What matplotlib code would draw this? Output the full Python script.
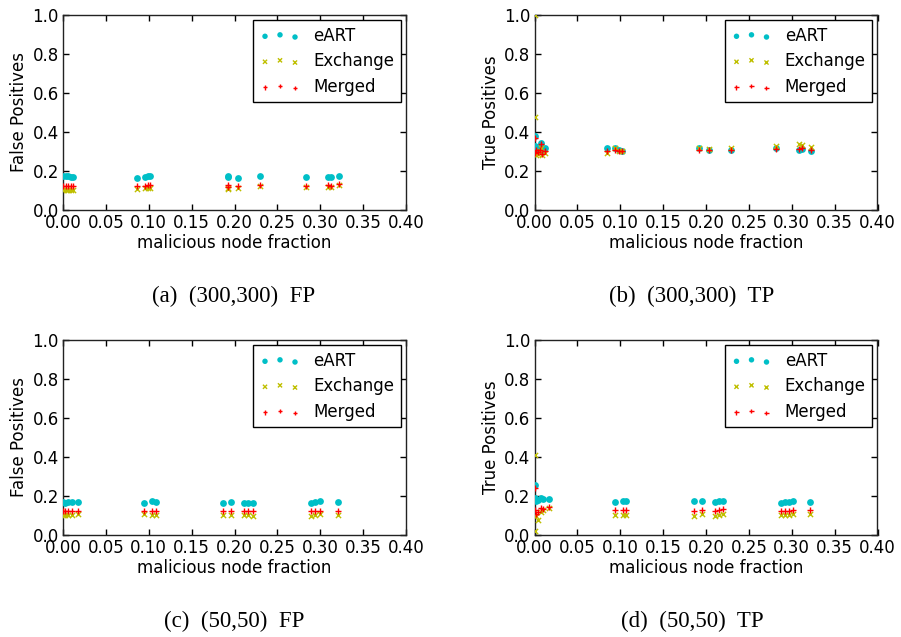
import matplotlib
matplotlib.use("Agg")
import matplotlib.pyplot as plt
import numpy as np

# ---------- data ----------
# (a) (300,300) FP
a_x = [0.000, 0.003, 0.006, 0.009, 0.012, 0.086, 0.096, 0.099, 0.102,
       0.192, 0.193, 0.204, 0.230, 0.283, 0.309, 0.313, 0.322]
a_eart = [0.175, 0.172, 0.172, 0.170, 0.168, 0.166, 0.171, 0.174, 0.172,
          0.168, 0.176, 0.166, 0.176, 0.170, 0.168, 0.168, 0.176]
a_exch = [0.105, 0.102, 0.104, 0.103, 0.105, 0.108, 0.112, 0.115, 0.112,
          0.106, 0.112, 0.112, 0.122, 0.118, 0.118, 0.116, 0.130]
a_merg = [0.125, 0.124, 0.125, 0.125, 0.124, 0.123, 0.125, 0.127, 0.126,
          0.120, 0.128, 0.124, 0.130, 0.125, 0.126, 0.125, 0.135]

# (b) (300,300) TP
b_x = [0.000, 0.000, 0.002, 0.004, 0.006, 0.007, 0.009, 0.012, 0.085, 0.094,
       0.099, 0.102, 0.192, 0.203, 0.229, 0.282, 0.308, 0.312, 0.322]
b_eart = [0.380, 0.330, 0.300, 0.304, 0.320, 0.345, 0.300, 0.316, 0.316, 0.316,
          0.308, 0.305, 0.316, 0.306, 0.310, 0.318, 0.310, 0.312, 0.303]
b_exch = [1.000, 0.475, 0.280, 0.285, 0.300, 0.320, 0.280, 0.290, 0.294, 0.318,
          0.305, 0.302, 0.320, 0.315, 0.318, 0.330, 0.338, 0.333, 0.325]
b_merg = [0.370, 0.290, 0.310, 0.295, 0.310, 0.340, 0.285, 0.300, 0.304, 0.310,
          0.304, 0.302, 0.308, 0.306, 0.310, 0.315, 0.315, 0.316, 0.308]

# (c) (50,50) FP
c_x = [0.000, 0.002, 0.006, 0.010, 0.018, 0.095, 0.104, 0.109,
       0.187, 0.196, 0.211, 0.216, 0.221, 0.289, 0.294, 0.300, 0.321]
c_eart = [0.168, 0.166, 0.170, 0.170, 0.170, 0.166, 0.172, 0.170,
          0.166, 0.168, 0.166, 0.166, 0.165, 0.165, 0.170, 0.172, 0.170]
c_exch = [0.105, 0.103, 0.104, 0.102, 0.108, 0.106, 0.104, 0.103,
          0.102, 0.105, 0.104, 0.101, 0.100, 0.100, 0.101, 0.106, 0.104]
c_merg = [0.125, 0.123, 0.125, 0.124, 0.125, 0.124, 0.125, 0.123,
          0.124, 0.125, 0.123, 0.124, 0.122, 0.121, 0.123, 0.125, 0.124]

# (d) (50,50) TP
d_x = [0.000, 0.000, 0.002, 0.004, 0.007, 0.010, 0.017, 0.094, 0.103, 0.107,
       0.186, 0.195, 0.211, 0.215, 0.220, 0.288, 0.292, 0.297, 0.301, 0.321]
d_eart = [0.255, 0.190, 0.175, 0.180, 0.190, 0.185, 0.185, 0.168, 0.172, 0.173,
          0.172, 0.175, 0.171, 0.172, 0.173, 0.166, 0.170, 0.170, 0.172, 0.170]
d_exch = [0.410, 0.020, 0.100, 0.075, 0.120, 0.130, 0.140, 0.105, 0.104, 0.104,
          0.100, 0.108, 0.098, 0.104, 0.110, 0.104, 0.104, 0.104, 0.106, 0.108]
d_merg = [0.240, 0.130, 0.110, 0.120, 0.140, 0.135, 0.145, 0.127, 0.128, 0.130,
          0.125, 0.130, 0.124, 0.126, 0.131, 0.123, 0.125, 0.125, 0.127, 0.126]

panels = [
    ("(a)  (300,300)  FP", "False Positives", a_x, a_eart, a_exch, a_merg),
    ("(b)  (300,300)  TP", "True Positives", b_x, b_eart, b_exch, b_merg),
    ("(c)  (50,50)  FP", "False Positives", c_x, c_eart, c_exch, c_merg),
    ("(d)  (50,50)  TP", "True Positives", d_x, d_eart, d_exch, d_merg),
]
series_names = ["eART", "Exchange", "Merged"]
x_ticks = [0.00, 0.05, 0.10, 0.15, 0.20, 0.25, 0.30, 0.35, 0.40]
y_ticks = [0.0, 0.2, 0.4, 0.6, 0.8, 1.0]

# ---------- figure ----------
plt.rcParams['font.family'] = ['DejaVu Sans']
W, H = 901, 637
fig = plt.figure(figsize=(W / 100, H / 100), dpi=100)

boxes = [(63, 15), (534.5, 15), (63, 340), (534.5, 340)]
aw, ah = 343, 195
cap_pos = [(234, 296), (692, 296), (234, 621), (692, 621)]

cyan = (0.0, 0.75, 0.78)
yel = (0.75, 0.75, 0.0)
red = (1.0, 0.0, 0.0)

for (cap, ylab, xs, e, x_, m), (lx, ty), (cx, cy) in zip(panels, boxes, cap_pos):
    ax = fig.add_axes([lx / W, 1 - (ty + ah) / H, aw / W, ah / H])
    ax.scatter(xs, e, s=24, marker='o', color=cyan, linewidths=0, label=series_names[0], zorder=3)
    ax.scatter(xs, x_, s=14, marker='x', color=yel, linewidths=1.0, label=series_names[1], zorder=3)
    ax.scatter(xs, m, s=16, marker='+', color=red, linewidths=1.0, label=series_names[2], zorder=4)
    ax.set_xlim(0, 0.40)
    ax.set_ylim(0, 1.0)
    ax.set_xticks(x_ticks)
    ax.set_xticklabels([f"{v:.2f}" for v in x_ticks])
    ax.set_yticks(y_ticks)
    ax.set_yticklabels([f"{v:.1f}" for v in y_ticks])
    ax.tick_params(direction='in', top=True, right=True, length=4, width=1,
                   labelsize=12, pad=3)
    for s in ax.spines.values():
        s.set_color('#222222')
        s.set_linewidth(1.0)
    ax.set_xlabel("malicious node fraction", fontsize=12, labelpad=1)
    ax.set_ylabel(ylab, fontsize=12, labelpad=3)
    leg = ax.legend(loc='upper right', scatterpoints=3,
                    scatteryoffsets=[0.375, 0.5, 0.3125], fontsize=12,
                    fancybox=False, framealpha=1, edgecolor='black',
                    borderaxespad=0.3, handlelength=2.4, labelspacing=0.45,
                    markerscale=0.8)
    leg.get_frame().set_linewidth(1.0)
    fig.text(cx / W, 1 - cy / H, cap, ha='center', va='center',
             fontsize=16.5, family='Liberation Serif')

fig.savefig("out.png", dpi=100, facecolor='white')
